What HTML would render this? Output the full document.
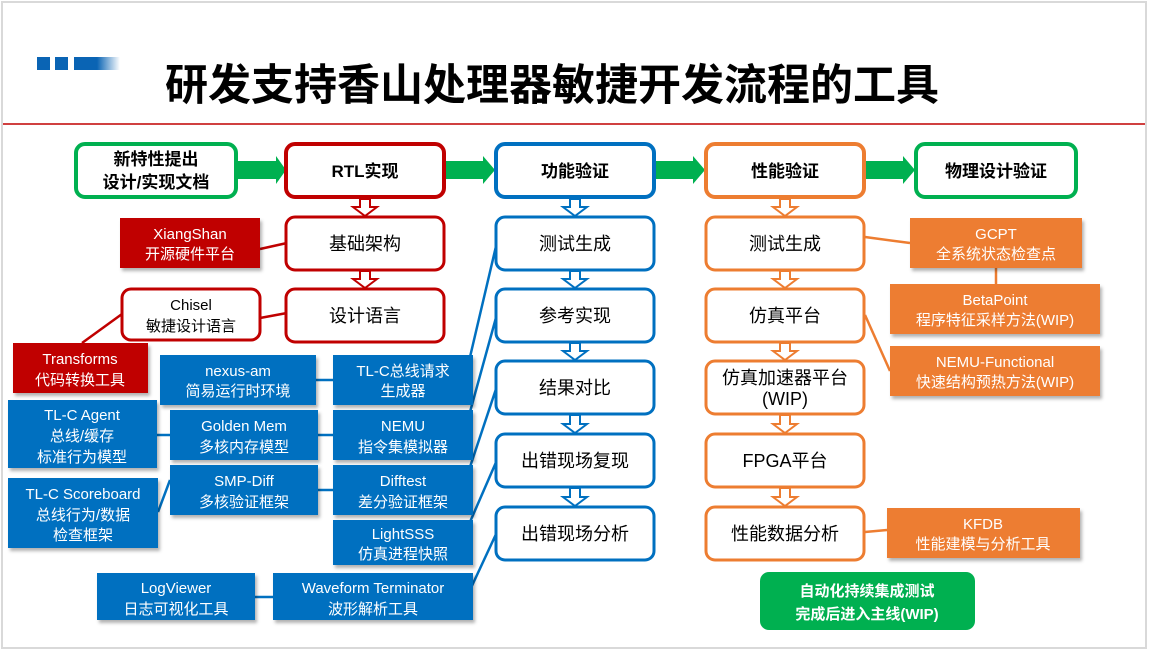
<!DOCTYPE html>
<html><head><meta charset="utf-8"><style>
html,body{margin:0;padding:0;background:#fff}
svg{display:block}
text{font-family:"Liberation Sans","Noto Sans CJK SC",sans-serif;text-anchor:middle}
.b{font-weight:bold;font-size:17px;fill:#000}
.n{font-size:18px;fill:#000}
.w{font-size:15px;fill:#fff}
.k{font-size:15px;fill:#000}
</style></head><body>
<svg width="1154" height="653" viewBox="0 0 1154 653" xmlns="http://www.w3.org/2000/svg">
<defs>
<linearGradient id="g" x1="0" x2="1"><stop offset="0" stop-color="#0a64b4"/><stop offset="0.5" stop-color="#0a64b4"/><stop offset="1" stop-color="#0a64b4" stop-opacity="0"/></linearGradient>
<filter id="s" x="-10%" y="-10%" width="130%" height="140%"><feDropShadow dx="2" dy="3" stdDeviation="1.5" flood-color="#000" flood-opacity="0.3"/></filter>
</defs>
<rect x="2" y="2" width="1144" height="646" fill="#fff" stroke="#d9d9d9" stroke-width="2"/>
<rect x="37" y="57" width="13" height="13" fill="#0a64b4"/>
<rect x="55" y="57" width="13" height="13" fill="#0a64b4"/>
<rect x="74" y="57" width="46" height="13" fill="url(#g)"/>
<text x="552" y="100" style="font-size:43px;font-weight:bold;fill:#000">研发支持香山处理器敏捷开发流程的工具</text>
<line x1="3" y1="124" x2="1145" y2="124" stroke="#c00000" stroke-width="1.5"/>

<g fill="#00b050">
<path d="M237 161h39v-5l10 14-10 14v-5h-39z"/>
<path d="M445 161h38v-5l12 14-12 14v-5h-38z"/>
<path d="M655 161h38v-5l12 14-12 14v-5h-38z"/>
<path d="M865 161h38v-5l12 14-12 14v-5h-38z"/>
</g>

<g stroke-width="2.5" fill="none">
<g stroke="#c00000">
<line x1="260" y1="249" x2="287" y2="243"/>
<line x1="260" y1="318" x2="287" y2="313"/>
<line x1="82" y1="343" x2="122" y2="314"/>
</g>
<g stroke="#0070c0">
<line x1="470" y1="357" x2="497" y2="242"/>
<line x1="470" y1="412" x2="497" y2="314"/>
<line x1="470" y1="467" x2="497" y2="386"/>
<line x1="470" y1="522" x2="497" y2="460"/>
<line x1="470" y1="590" x2="497" y2="532"/>
<line x1="316" y1="380" x2="333" y2="380"/>
<line x1="157" y1="435" x2="170" y2="435"/>
<line x1="318" y1="435" x2="333" y2="435"/>
<line x1="318" y1="490" x2="333" y2="490"/>
<line x1="158" y1="512" x2="170" y2="480"/>
<line x1="255" y1="597" x2="273" y2="597"/>
</g>
<g stroke="#ed7d31">
<line x1="865" y1="237" x2="910" y2="243"/>
<line x1="996" y1="268" x2="996" y2="284"/>
<line x1="865" y1="315" x2="890" y2="371"/>
<line x1="865" y1="532" x2="887" y2="530"/>
</g>
</g>

<g fill="#fff" stroke-width="2">
<g stroke="#c00000">
<path d="M360 199h10v8h7l-12 9-12-9h7z"/>
<path d="M360 271h10v8h7l-12 9-12-9h7z"/>
</g>
<g stroke="#0070c0">
<path d="M570 199h10v8h7l-12 9-12-9h7z"/>
<path d="M570 271h10v8h7l-12 9-12-9h7z"/>
<path d="M570 343h10v8h7l-12 9-12-9h7z"/>
<path d="M570 415h10v9h7l-12 9-12-9h7z"/>
<path d="M570 488h10v9h7l-12 9-12-9h7z"/>
</g>
<g stroke="#ed7d31">
<path d="M780 199h10v8h7l-12 9-12-9h7z"/>
<path d="M780 271h10v8h7l-12 9-12-9h7z"/>
<path d="M780 343h10v8h7l-12 9-12-9h7z"/>
<path d="M780 415h10v9h7l-12 9-12-9h7z"/>
<path d="M780 488h10v9h7l-12 9-12-9h7z"/>
</g>
</g>

<g fill="#fff" stroke-width="4">
<rect x="76" y="144" width="160" height="53" rx="9" stroke="#00b050"/>
<rect x="286" y="144" width="158" height="53" rx="9" stroke="#c00000"/>
<rect x="496" y="144" width="158" height="53" rx="9" stroke="#0070c0"/>
<rect x="706" y="144" width="158" height="53" rx="9" stroke="#ed7d31"/>
<rect x="916" y="144" width="160" height="53" rx="9" stroke="#00b050"/>
</g>
<text class="b" x="156" y="165">新特性提出</text>
<text class="b" x="156" y="188">设计/实现文档</text>
<text class="b" x="365" y="177">RTL实现</text>
<text class="b" x="575" y="177">功能验证</text>
<text class="b" x="785" y="177">性能验证</text>
<text class="b" x="996" y="177">物理设计验证</text>

<g fill="#fff" stroke-width="3">
<g stroke="#c00000">
<rect x="286" y="217" width="158" height="53" rx="9"/>
<rect x="286" y="289" width="158" height="53" rx="9"/>
<rect x="122" y="289" width="138" height="51" rx="9"/>
</g>
<g stroke="#0070c0">
<rect x="496" y="217" width="158" height="53" rx="9"/>
<rect x="496" y="289" width="158" height="53" rx="9"/>
<rect x="496" y="361" width="158" height="53" rx="9"/>
<rect x="496" y="434" width="158" height="53" rx="9"/>
<rect x="496" y="507" width="158" height="53" rx="9"/>
</g>
<g stroke="#ed7d31">
<rect x="706" y="217" width="158" height="53" rx="9"/>
<rect x="706" y="289" width="158" height="53" rx="9"/>
<rect x="706" y="361" width="158" height="53" rx="9"/>
<rect x="706" y="434" width="158" height="53" rx="9"/>
<rect x="706" y="507" width="158" height="53" rx="9"/>
</g>
</g>
<text class="n" x="365" y="250">基础架构</text>
<text class="n" x="365" y="322">设计语言</text>
<text class="k" x="191" y="310">Chisel</text>
<text class="k" x="191" y="331">敏捷设计语言</text>
<text class="n" x="575" y="250">测试生成</text>
<text class="n" x="575" y="322">参考实现</text>
<text class="n" x="575" y="394">结果对比</text>
<text class="n" x="575" y="467">出错现场复现</text>
<text class="n" x="575" y="540">出错现场分析</text>
<text class="n" x="785" y="250">测试生成</text>
<text class="n" x="785" y="322">仿真平台</text>
<text class="n" x="785" y="384">仿真加速器平台</text>
<text class="n" x="785" y="405">(WIP)</text>
<text class="n" x="785" y="467">FPGA平台</text>
<text class="n" x="785" y="540">性能数据分析</text>

<g filter="url(#s)">
<rect x="120" y="218" width="140" height="50" fill="#c00000"/>
<rect x="13" y="343" width="135" height="50" fill="#c00000"/>
<g fill="#0070c0">
<rect x="160" y="355" width="156" height="50"/>
<rect x="333" y="355" width="140" height="50"/>
<rect x="8" y="400" width="149" height="68"/>
<rect x="170" y="410" width="148" height="50"/>
<rect x="333" y="410" width="140" height="50"/>
<rect x="170" y="465" width="148" height="50"/>
<rect x="333" y="465" width="140" height="50"/>
<rect x="8" y="478" width="150" height="70"/>
<rect x="333" y="520" width="140" height="45"/>
<rect x="97" y="573" width="158" height="47"/>
<rect x="273" y="573" width="200" height="47"/>
</g>
<g fill="#ed7d31">
<rect x="910" y="218" width="172" height="50"/>
<rect x="890" y="284" width="210" height="50"/>
<rect x="890" y="346" width="210" height="50"/>
<rect x="887" y="508" width="193" height="50"/>
</g>
</g>
<rect x="760" y="572" width="215" height="58" rx="9" fill="#00b050"/>
<text x="867" y="596" style="font-size:15px;font-weight:bold;fill:#fff">自动化持续集成测试</text>
<text x="867" y="619" style="font-size:15px;font-weight:bold;fill:#fff">完成后进入主线(WIP)</text>

<g class="w">
<text class="w" x="190" y="239">XiangShan</text><text class="w" x="190" y="259">开源硬件平台</text>
<text class="w" x="80" y="364">Transforms</text><text class="w" x="80" y="385">代码转换工具</text>
<text class="w" x="238" y="376">nexus-am</text><text class="w" x="238" y="396">简易运行时环境</text>
<text class="w" x="403" y="376">TL-C总线请求</text><text class="w" x="403" y="396">生成器</text>
<text class="w" x="82" y="420">TL-C Agent</text><text class="w" x="82" y="441">总线/缓存</text><text class="w" x="82" y="462">标准行为模型</text>
<text class="w" x="244" y="431">Golden Mem</text><text class="w" x="244" y="452">多核内存模型</text>
<text class="w" x="403" y="431">NEMU</text><text class="w" x="403" y="452">指令集模拟器</text>
<text class="w" x="244" y="486">SMP-Diff</text><text class="w" x="244" y="507">多核验证框架</text>
<text class="w" x="403" y="486">Difftest</text><text class="w" x="403" y="507">差分验证框架</text>
<text class="w" x="83" y="499">TL-C Scoreboard</text><text class="w" x="83" y="520">总线行为/数据</text><text class="w" x="83" y="540">检查框架</text>
<text class="w" x="403" y="539">LightSSS</text><text class="w" x="403" y="559">仿真进程快照</text>
<text class="w" x="176" y="593">LogViewer</text><text class="w" x="176" y="614">日志可视化工具</text>
<text class="w" x="373" y="593">Waveform Terminator</text><text class="w" x="373" y="614">波形解析工具</text>
<text class="w" x="996" y="239">GCPT</text><text class="w" x="996" y="259">全系统状态检查点</text>
<text class="w" x="995" y="305">BetaPoint</text><text class="w" x="995" y="325">程序特征采样方法(WIP)</text>
<text class="w" x="995" y="367">NEMU-Functional</text><text class="w" x="995" y="387">快速结构预热方法(WIP)</text>
<text class="w" x="983" y="529">KFDB</text><text class="w" x="983" y="549">性能建模与分析工具</text>
</g>
</svg>
</body></html>
